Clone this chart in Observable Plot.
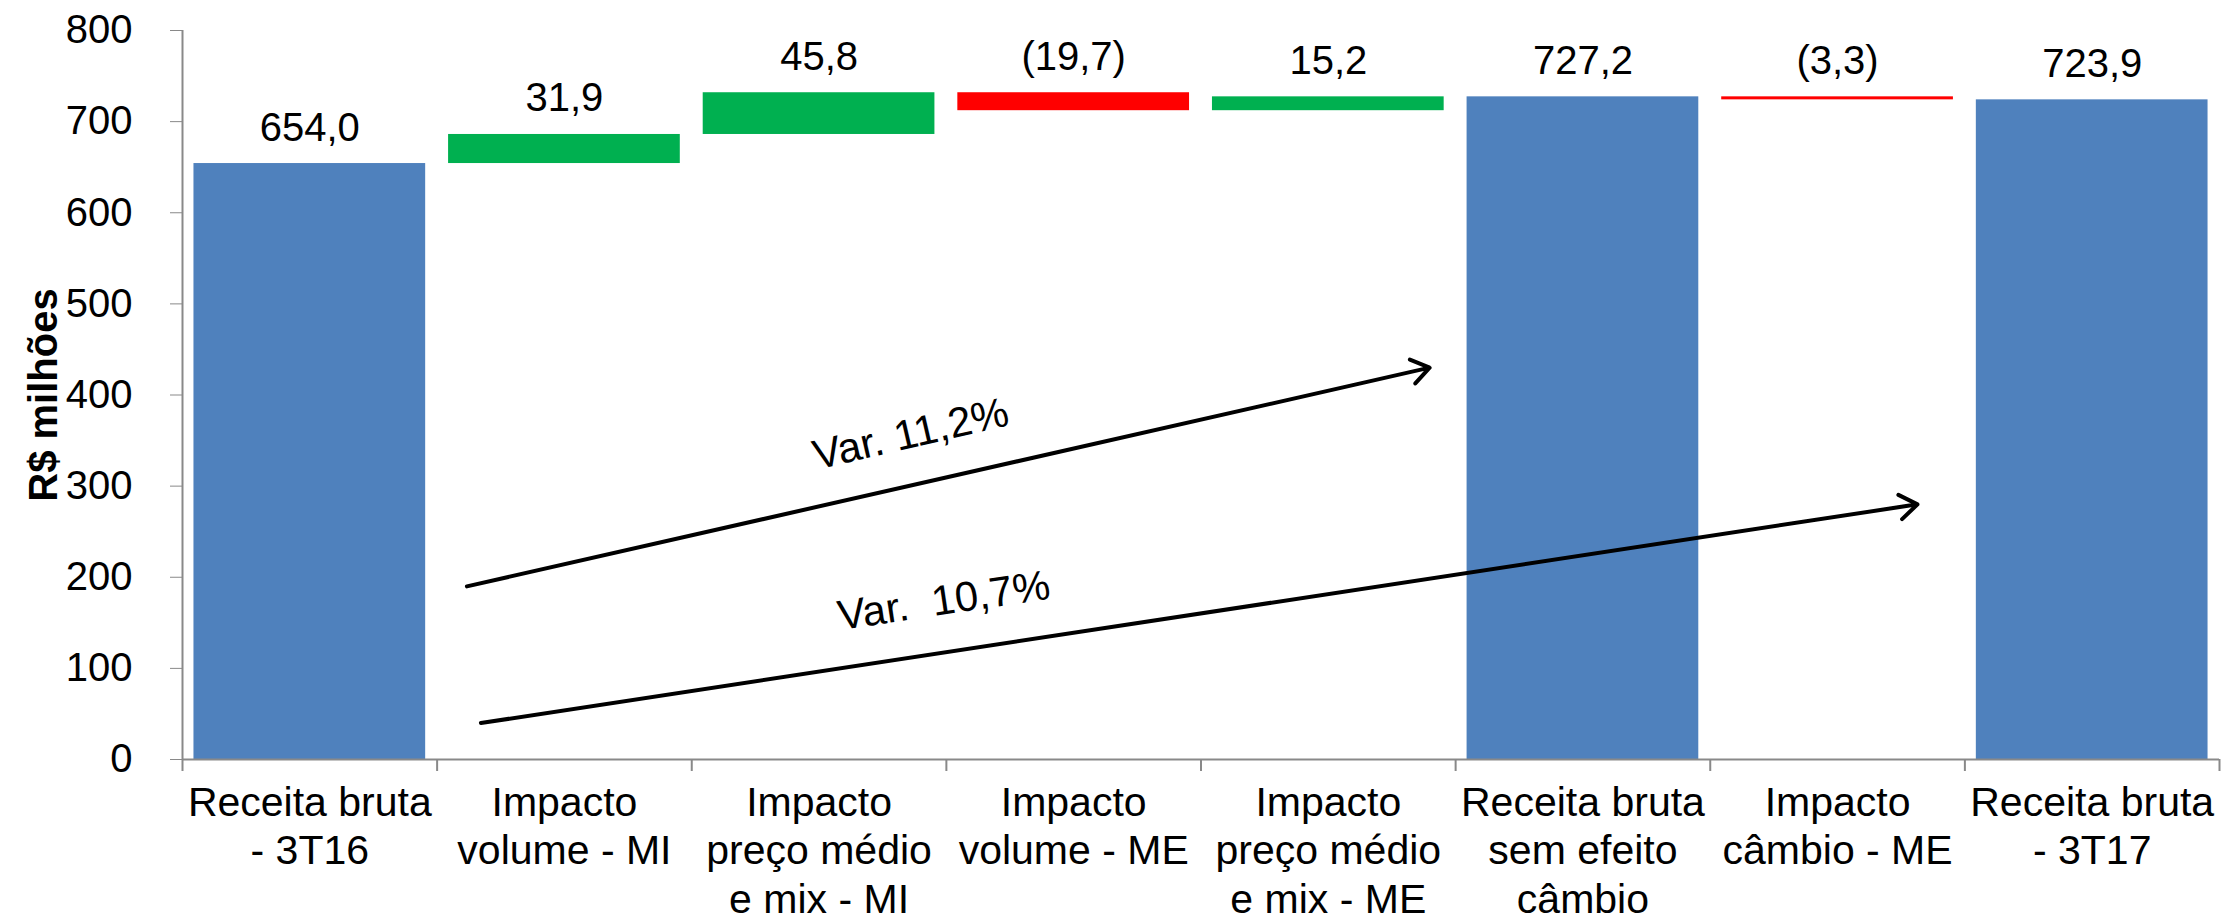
<!DOCTYPE html>
<html>
<head>
<meta charset="utf-8">
<script src="https://cdn.jsdelivr.net/npm/d3@7"></script>
<script src="https://cdn.jsdelivr.net/npm/@observablehq/plot@0.6"></script>
<style>
html, body { margin: 0; padding: 0; background: #fff; }
#chart svg { display: block; }
#chart svg text { white-space: pre; }
g[aria-label="y-axis label"] text { font-weight: bold; }
</style>
</head>
<body>
<div id="chart"></div>
<script>
// ---- data ----
const categories = [
  "Receita bruta\n- 3T16",
  "Impacto\nvolume - MI",
  "Impacto\npreço médio\ne mix - MI",
  "Impacto\nvolume - ME",
  "Impacto\npreço médio\ne mix - ME",
  "Receita bruta\nsem efeito\ncâmbio",
  "Impacto\ncâmbio - ME",
  "Receita bruta\n- 3T17"
];
const values = [654.0, 31.9, 45.8, -19.7, 15.2, 727.2, -3.3, 723.9];
const kinds = ["total", "delta", "delta", "delta", "delta", "total", "delta", "total"];
const yTicks = [0, 100, 200, 300, 400, 500, 600, 700, 800];

// annotation arrows (x in category units, y in R$ milhões)
const arrowX1 = [1.117, 1.172];
const arrowY1 = [190, 40];
const arrowX2 = [4.898, 6.814];
const arrowY2 = [430, 280];
const annText = ["Var. 11,2%", "Var.  10,7%"];
const annX = [2.86, 2.99];
const annY = [357, 174];
const annAngle = [-13, -8.5];

// ---- build ----
const blue = "#4F81BD", green = "#00B050", red = "#FF0000", gray = "#898989";
let running = 0;
const rows = categories.map((c, i) => {
  let y1, y2;
  if (kinds[i] === "total") { y1 = 0; y2 = values[i]; running = values[i]; }
  else { y1 = running; y2 = +(running + values[i]).toFixed(1); running = y2; }
  return {i, c, y1, y2, v: values[i], kind: kinds[i], top: Math.max(y1, y2)};
});
const f1 = d3.format(".1f");
const fmt = v => (v < 0 ? "(" + f1(-v) + ")" : f1(v)).replace(".", ",");
const colorOf = d => d.kind === "total" ? blue : (d.v >= 0 ? green : red);

const arrows = arrowX1.map((_, k) => ({x1: arrowX1[k], y1: arrowY1[k], x2: arrowX2[k], y2: arrowY2[k]}));
const anns = annText.map((t, k) => ({t, x: annX[k], y: annY[k], a: annAngle[k]}));

const pad = 0.045;
const chart = Plot.plot({
  width: 2223,
  height: 921,
  marginLeft: 182,
  marginRight: 4,
  marginTop: 30,
  marginBottom: 162,
  style: {fontFamily: "'Liberation Sans', Arial, sans-serif", fontSize: "40px", color: "black", background: "white"},
  x: {domain: [0, categories.length], axis: null},
  y: {domain: [0, 800], axis: null},
  marks: [
    Plot.rectY(rows, {x1: d => d.i + pad, x2: d => d.i + 1 - pad, y1: "y1", y2: "y2", fill: colorOf}),
    Plot.axisY({ticks: yTicks, tickSize: 12, tickPadding: 38, stroke: gray, fill: "black", fontSize: 40,
      label: "R$ milhões", labelAnchor: "center", labelOffset: 154, labelArrow: "none"}),
    Plot.ruleX([0], {stroke: gray, strokeWidth: 2}),
    Plot.ruleY([0], {stroke: gray, strokeWidth: 2}),
    Plot.axisX({ticks: d3.range(0, categories.length + 1), tickSize: 12, stroke: gray, strokeWidth: 2, tickFormat: () => "", label: null}),
    Plot.axisX({ticks: d3.range(categories.length).map(i => i + 0.5), tickSize: 0, tickPadding: 22,
      tickFormat: t => categories[Math.floor(t)], fontSize: 41, lineHeight: 1.18, fill: "black", label: null}),
    Plot.text(rows, {x: d => d.i + 0.5, y: "top", text: d => fmt(d.v), dy: -23, lineAnchor: "bottom", fontSize: 40, fill: "black"}),
    Plot.arrow(arrows, {x1: "x1", y1: "y1", x2: "x2", y2: "y2", stroke: "black", strokeWidth: 4, headLength: 8, headAngle: 70}),
    Plot.text(anns, {x: "x", y: "y", text: "t", rotate: "a", fontSize: 42, fill: "black"})
  ]
});
document.getElementById("chart").appendChild(chart);
</script>
</body>
</html>
